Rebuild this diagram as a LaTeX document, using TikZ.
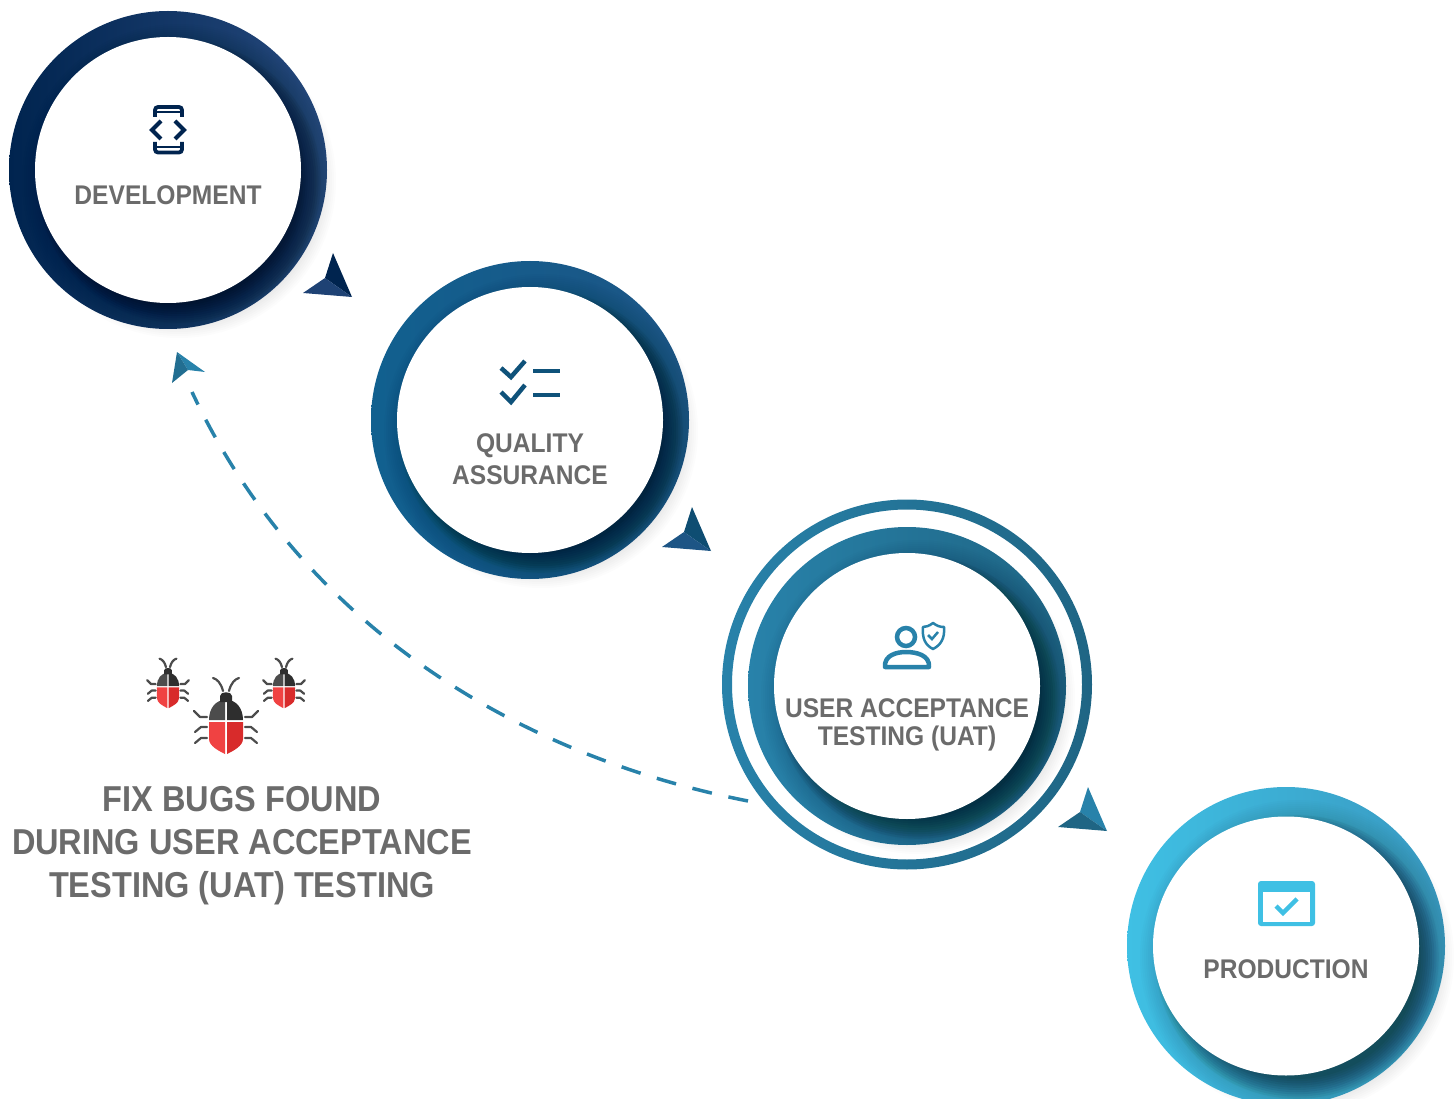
\documentclass[tikz,border=0pt]{standalone}
\usepackage{fontspec}
\usetikzlibrary{shapes.geometric}
\setmainfont{Liberation Sans}
\newfontfamily\stagefont[FakeStretch=0.91]{Liberation Sans}
\newfontfamily\fixfont[FakeStretch=0.903]{Liberation Sans}
\definecolor{labelgray}{HTML}{6B6B6B}
\definecolor{devdark}{HTML}{00244F}
\definecolor{devlight}{HTML}{26497D}
\definecolor{qadark}{HTML}{11608F}
\definecolor{qalight}{HTML}{1D5585}
\definecolor{uatdark}{HTML}{2882AA}
\definecolor{uatlight}{HTML}{1F6584}
\definecolor{proddark}{HTML}{3FC0E4}
\definecolor{prodlight}{HTML}{3999C1}
\definecolor{bugred}{HTML}{F04242}
\definecolor{bugredd}{HTML}{D82B2B}
\definecolor{buggray}{HTML}{4C4C4C}
\definecolor{buggrayd}{HTML}{2E2E2E}
\tikzset{
	bugpic/.pic={
		\fill[buggray] (-1,0) -- (-17,0) .. controls (-17,-12) and (-10,-20) .. (-1,-20) -- cycle;
		\fill[buggrayd] (1,0) -- (17,0) .. controls (17,-12) and (10,-20) .. (1,-20) -- cycle;
		\fill[bugred] (-1,2) -- (-17,2) -- (-17,19) .. controls (-17,26) and (-7,31) .. (-1,34) -- cycle;
		\fill[bugredd] (1,2) -- (17,2) -- (17,19) .. controls (17,26) and (7,31) .. (1,34) -- cycle;
		\fill[buggrayd] (-6,-18) -- (-6,-24) .. controls (-6,-29) and (6,-29) .. (6,-24) -- (6,-18) -- cycle;
		\foreach \s in {-1,1} {
			\draw[buggray, line width=2.2pt, line cap=round, line join=round, xscale=\s]
				(3,-29) .. controls (5,-37) and (9,-41) .. (13,-42)
				(19,-3) -- (26,-3) -- (32,-9)
				(19,7) -- (25,7) -- (31,12)
				(19,18) -- (25,18) -- (31,23);
		}
	}
}
\newcommand{\kitehead}[4]{
	\fill[#3] (#1,#2) -- ++(19,44) -- ++(-27,-19) -- cycle;
	\fill[#4] (#1,#2) ++(-8,25) -- ++(27,19) -- ++(-49,-4) -- cycle;
}
\newcommand{\ringshadow}[2]{
	\begin{scope}
		\clip (#1,#2) circle (159);
		\foreach \i in {0,...,9}
			\fill[black, opacity=0.05] (#1+11,#2+11) circle (122+2.2*\i);
	\end{scope}
	\foreach \i in {0,...,11}
		\fill[black, opacity=0.011] (#1+11,#2+11) circle (135+2*\i);
}
\begin{document}
\begin{tikzpicture}[x=1pt, y=-1pt]
	\tikzstyle{ringStyle}=[shape = circle, minimum size = 318pt, inner sep = 0pt]
	\tikzstyle{discStyle}=[shape = circle, minimum size = 266pt, inner sep = 0pt, fill = white]
	\tikzstyle{labelStyle}=[text = labelgray, align = center, inner sep = 0pt, font = \fontsize{27}{32}\stagefont\bfseries]
	\tikzstyle{iconStyle}=[line width = 4.5pt, line join = miter, fill = none]
	\clip (0,0) rectangle (1454,1099);
	\node[ringStyle, left color = devdark, right color = devlight] (devring) at (168,170) {};
	\ringshadow{168}{170}
	\node[discStyle] (dev) at (168,170) {};
	\node[labelStyle] (devlabel) at (168,195) {DEVELOPMENT};
	\node[ringStyle, left color = qadark, right color = qalight] (qaring) at (530,420) {};
	\ringshadow{530}{420}
	\node[discStyle] (qa) at (530,420) {};
	\node[labelStyle] (qalabel) at (530,459) {QUALITY\\ASSURANCE};
	\shade[even odd rule, left color = uatdark, right color = uatlight] (907,684.5) circle (185) (907,684.5) circle (175);
	\node[ringStyle, left color = uatdark, right color = uatlight] (uatring) at (907,686) {};
	\ringshadow{907}{686}
	\node[discStyle] (uat) at (907,686) {};
	\node[labelStyle, font = \fontsize{27}{28}\stagefont\bfseries] (uatlabel) at (907,725) {USER ACCEPTANCE\\TESTING (UAT)};
	\node[ringStyle, left color = proddark, right color = prodlight] (prodring) at (1286,946) {};
	\ringshadow{1286}{946}
	\node[discStyle, minimum size = 0pt, shape = ellipse, minimum width = 266pt, minimum height = 259pt] (prod) at (1286,946) {};
	\node[labelStyle] (prodlabel) at (1286,969) {PRODUCTION};
	\kitehead{333}{253}{devdark}{devlight!80!devdark}
	\kitehead{692}{507}{qadark!80!black}{qalight}
	\kitehead{1088}{787}{uatdark}{uatlight}
	\coordinate (bugstart) at (748,801);
	\coordinate (bugend) at (192,392);
	\draw[uatdark, line width = 3.5pt, dash pattern = on 20pt off 17pt] (bugstart) .. controls (500,752) and (295,612) .. (bugend);
	\fill[uatdark] (177,352) -- (205,372) -- (188,370) -- cycle;
	\fill[uatdark!85!black] (177,352) -- (188,370) -- (172,383) -- cycle;
	\draw[iconStyle, devdark, line width = 3.8pt, rounded corners = 3pt] (155,117) -- (155,107) -- (182,107) -- (182,117);
	\draw[devdark, line width = 2pt] (155,112.5) -- (182,112.5);
	\draw[iconStyle, devdark, line width = 3.8pt, rounded corners = 3pt] (155,142) -- (155,152.5) -- (182,152.5) -- (182,142);
	\draw[devdark, line width = 2pt] (155,147) -- (182,147);
	\draw[iconStyle, devdark, line width = 4pt] (161,121) -- (152,130) -- (161,139);
	\draw[iconStyle, devdark, line width = 4pt] (175,121) -- (184,130) -- (175,139);
	\draw[iconStyle, qadark!85!black] (501,368) -- (511,377) -- (525,361);
	\draw[iconStyle, qadark!85!black] (501,392) -- (511,402) -- (525,385);
	\draw[iconStyle, qadark!85!black] (533,371) -- (560,371);
	\draw[iconStyle, qadark!85!black] (533,395) -- (560,395);
	\draw[iconStyle, uatdark] (906,637) circle (9);
	\draw[iconStyle, uatdark, line join = round] (885,667) .. controls (884,655) and (897,652) .. (906,652) .. controls (916,652) and (930,655) .. (929,667) -- cycle;
	\draw[iconStyle, uatdark, line width = 2.5pt, line join = round] (933,623) .. controls (937,626) and (940,627) .. (944,627) .. controls (945,638) and (941,645) .. (933,649) .. controls (925,645) and (922,638) .. (923,627) .. controls (926,627) and (929,626) .. (933,623) -- cycle;
	\draw[iconStyle, uatdark, line width = 2.5pt] (928,635) -- (932,639) -- (938,632);
	\fill[proddark, rounded corners = 3pt] (1258,881) rectangle (1315,926);
	\fill[white] (1263,892) rectangle (1310,922);
	\draw[iconStyle, proddark] (1276,906) -- (1283,913) -- (1297,899);
	\pic (bugbig) at (226,720) {bugpic};
	\pic[scale = 0.65] (bugleft) at (168,686) {bugpic};
	\pic[scale = 0.65] (bugright) at (284,686) {bugpic};
	\node[text = labelgray, align = center, inner sep = 0pt, font = \fontsize{36}{43}\fixfont\bfseries] (fixlabel) at (242,846) {FIX BUGS FOUND\\DURING USER ACCEPTANCE\\TESTING (UAT) TESTING};
\end{tikzpicture}
\end{document}
